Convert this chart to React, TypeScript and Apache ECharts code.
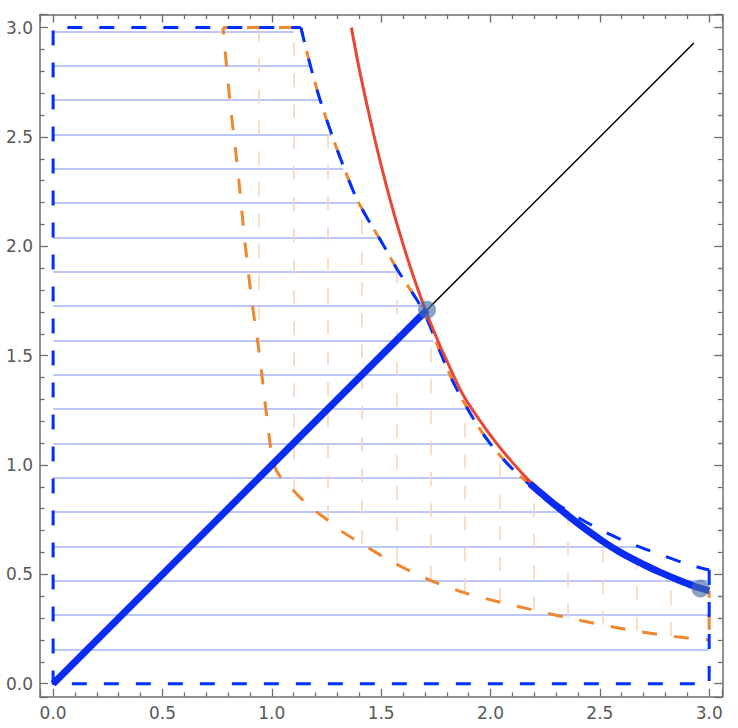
import React, { useEffect, useRef } from 'react';
import * as echarts from 'echarts';

// Upper boundary of the blue (dashed) region, left to right
const regionUpperX = [1.133, 1.174, 1.219, 1.278, 1.326, 1.387, 1.456, 1.502, 1.573, 1.654, 1.70, 1.771, 1.829, 1.905, 1.982, 2.078, 2.18, 2.37, 2.50, 2.63, 2.77, 2.90, 3.0];
const regionUpperY = [3.0, 2.835, 2.675, 2.50, 2.37, 2.22, 2.095, 2.02, 1.895, 1.77, 1.69, 1.515, 1.38, 1.24, 1.12, 1.005, 0.91, 0.779, 0.705, 0.645, 0.593, 0.547, 0.52];

// Orange region lower-left boundary
const orangeLeftX = [0.777, 0.808, 0.846, 0.877, 0.910, 0.941, 0.976, 0.994, 1.010];
const orangeLeftY = [3.0, 2.669, 2.334, 2.02, 1.739, 1.523, 1.229, 1.084, 1.0];
const orangeLowerX = [1.040, 1.087, 1.136, 1.193, 1.250, 1.311, 1.369, 1.433, 1.562, 1.722, 1.890, 2.035, 2.195, 2.363, 2.515, 2.683, 2.850, 3.0];
const orangeLowerY = [0.945, 0.896, 0.845, 0.794, 0.752, 0.703, 0.665, 0.626, 0.551, 0.474, 0.413, 0.375, 0.337, 0.299, 0.268, 0.238, 0.215, 0.20];

// Red curve
const redX = [1.364, 1.40, 1.45, 1.50, 1.55, 1.60, 1.65, 1.70, 1.75, 1.80, 1.875, 1.95, 2.027, 2.10, 2.165, 2.20];
const redY = [3.0, 2.81, 2.58, 2.37, 2.18, 2.01, 1.855, 1.715, 1.59, 1.477, 1.32, 1.205, 1.10, 1.012, 0.94, 0.905];

// Thick blue path: diagonal then curve
const diagX = [0, 1.71];
const diagY = [0, 1.71];
const pathCurveX = [2.18, 2.25, 2.316, 2.40, 2.512, 2.60, 2.70, 2.774, 2.85, 2.93, 3.0];
const pathCurveY = [0.915, 0.855, 0.80, 0.733, 0.652, 0.597, 0.545, 0.51, 0.478, 0.447, 0.425];

// Black ray
const rayX = [1.71, 2.93];
const rayY = [1.71, 2.93];

// Points
const pointX = [1.71, 2.96];
const pointY = [1.71, 0.435];

// Horizontal blue hatch lines
const hatchY = [0.157, 0.314, 0.471, 0.628, 0.785, 0.942, 1.099, 1.256, 1.413, 1.570, 1.727, 1.884, 2.041, 2.198, 2.355, 2.512, 2.669, 2.826, 2.983];
const hatchXEnd = [3.0, 3.0, 3.0, 2.676, 2.361, 2.146, 1.998, 1.895, 1.809, 1.741, 1.70, 1.573, 1.480, 1.394, 1.327, 1.273, 1.219, 1.175, 1.10];

// Vertical orange hatch lines
const vHatchX = [0.942, 1.099, 1.256, 1.413, 1.570, 1.727, 1.884, 2.041, 2.198, 2.355, 2.512, 2.669, 2.826];
const vHatchLow = [1.52, 0.885, 0.748, 0.638, 0.556, 0.477, 0.418, 0.373, 0.336, 0.301, 0.269, 0.241, 0.218];
const vHatchHigh = [3.0, 3.0, 2.568, 2.16, 1.889, 1.60, 1.274, 1.05, 0.895, 0.77, 0.652, 0.557, 0.487];

const tickLabels = ['0.0', '0.5', '1.0', '1.5', '2.0', '2.5', '3.0'];

const zip = (xs: number[], ys: number[]) => xs.map((x, i) => [x, ys[i]]);

export default function App() {
  const ref = useRef<HTMLDivElement>(null);
  useEffect(() => {
    if (!ref.current) return;
    const chart = echarts.init(ref.current, null, { renderer: 'svg' });

    const upper = zip(regionUpperX, regionUpperY);
    const meetIdx = regionUpperX.indexOf(2.18);
    const n = regionUpperX.length - 1;
    const blueEdges = [[regionUpperX[n], regionUpperY[n]], [3, 0], [0, 0], [0, 3], [regionUpperX[0], regionUpperY[0]]];
    const orangeTopEdge = [[orangeLeftX[0], orangeLeftY[0]], [regionUpperX[0], regionUpperY[0]]];
    const orangeUpper = [...upper.slice(0, meetIdx + 1), ...zip(pathCurveX, pathCurveY).slice(1)];
    const m = pathCurveX.length - 1;
    const lo = orangeLowerX.length - 1;
    const orangeRight = [[pathCurveX[m], pathCurveY[m]], [orangeLowerX[lo], orangeLowerY[lo]]];
    const orangeCurve = [...zip(orangeLeftX, orangeLeftY), ...zip(orangeLowerX, orangeLowerY)];

    const labelFmt = (v: number) => {
      const k = Math.round(v * 2);
      if (Math.abs(v * 2 - k) > 1e-6 || k < 0 || k > 6) return '';
      return tickLabels[k];
    };

    const frameColor = '#6e6e6e';
    const mkAxis = (pos: string, showLabel: boolean) => ({
      type: 'value',
      position: pos,
      min: -0.06,
      max: 3.06,
      splitNumber: 6,
      axisLine: { show: true, onZero: false, lineStyle: { color: frameColor, width: 1.5 } },
      axisTick: { show: true, inside: true, length: 8, lineStyle: { color: frameColor, width: 1.3 } },
      minorTick: { show: true, splitNumber: 5, length: 4.5, lineStyle: { color: frameColor, width: 1.3 } },
      splitLine: { show: false },
      minorSplitLine: { show: false },
      axisLabel: {
        show: showLabel,
        formatter: labelFmt,
        color: '#585858',
        fontSize: 17,
        fontFamily: 'DejaVu Sans, Liberation Sans, sans-serif',
        margin: pos === 'left' ? 7 : 8,
      },
    });

    const hLines = hatchY.map((y, i) => ({ coords: [[0, y], [hatchXEnd[i], y]] }));
    const vLines = vHatchX.map((x, i) => ({ coords: [[x, vHatchLow[i]], [x, vHatchHigh[i]]] }));

    const lineBase = { type: 'line', showSymbol: false, symbol: 'none', silent: true, xAxisIndex: 0, yAxisIndex: 0 };
    const orangeStyle = { color: '#ef8630', width: 3, type: [15, 17], dashOffset: 8 };
    const blueDash = { color: '#0030ff', width: 3, type: [15, 17] };

    chart.setOption({
      animation: false,
      grid: { left: 40, top: 14.5, width: 682.3, height: 682.3 },
      xAxis: [mkAxis('bottom', true), mkAxis('top', false)],
      yAxis: [mkAxis('left', true), mkAxis('right', false)],
      series: [
        {
          type: 'lines', coordinateSystem: 'cartesian2d', xAxisIndex: 0, yAxisIndex: 0, z: 1,
          data: hLines, lineStyle: { color: '#a6b3f7', width: 1.5, opacity: 1 },
        },
        {
          type: 'lines', coordinateSystem: 'cartesian2d', xAxisIndex: 0, yAxisIndex: 0, z: 1,
          data: vLines, lineStyle: { color: '#f8d2b6', width: 1.5, opacity: 1, type: [14, 17] },
        },
        { ...lineBase, z: 2, data: orangeTopEdge, lineStyle: orangeStyle },
        { ...lineBase, z: 2, data: orangeUpper, smooth: 0.3, lineStyle: orangeStyle },
        { ...lineBase, z: 2, data: orangeRight, lineStyle: orangeStyle },
        { ...lineBase, z: 2, data: orangeCurve, smooth: 0.3, lineStyle: orangeStyle },
        { ...lineBase, z: 3, data: blueEdges, lineStyle: blueDash },
        { ...lineBase, z: 3, data: upper, smooth: 0.3, lineStyle: blueDash },
        {
          ...lineBase, z: 4, data: zip(redX, redY), smooth: 0.3,
          lineStyle: { color: '#ea4535', width: 3 },
        },
        {
          ...lineBase, z: 5, data: zip(rayX, rayY),
          lineStyle: { color: '#000000', width: 1.5 },
        },
        {
          ...lineBase, z: 6, data: zip(diagX, diagY),
          lineStyle: { color: '#0a2cf2', width: 7 },
        },
        {
          ...lineBase, z: 6, data: zip(pathCurveX, pathCurveY), smooth: 0.3,
          lineStyle: { color: '#0a2cf2', width: 7 },
        },
        {
          type: 'scatter', z: 7, xAxisIndex: 0, yAxisIndex: 0, silent: true,
          data: zip(pointX, pointY), symbolSize: 18,
          itemStyle: { color: 'rgba(70,108,165,0.8)' },
        },
      ],
    });
    return () => chart.dispose();
  }, []);

  return (
    <div
      ref={ref}
      style={{ position: 'absolute', left: 0, top: 0, width: 738, height: 728, background: '#ffffff' }}
    />
  );
}
